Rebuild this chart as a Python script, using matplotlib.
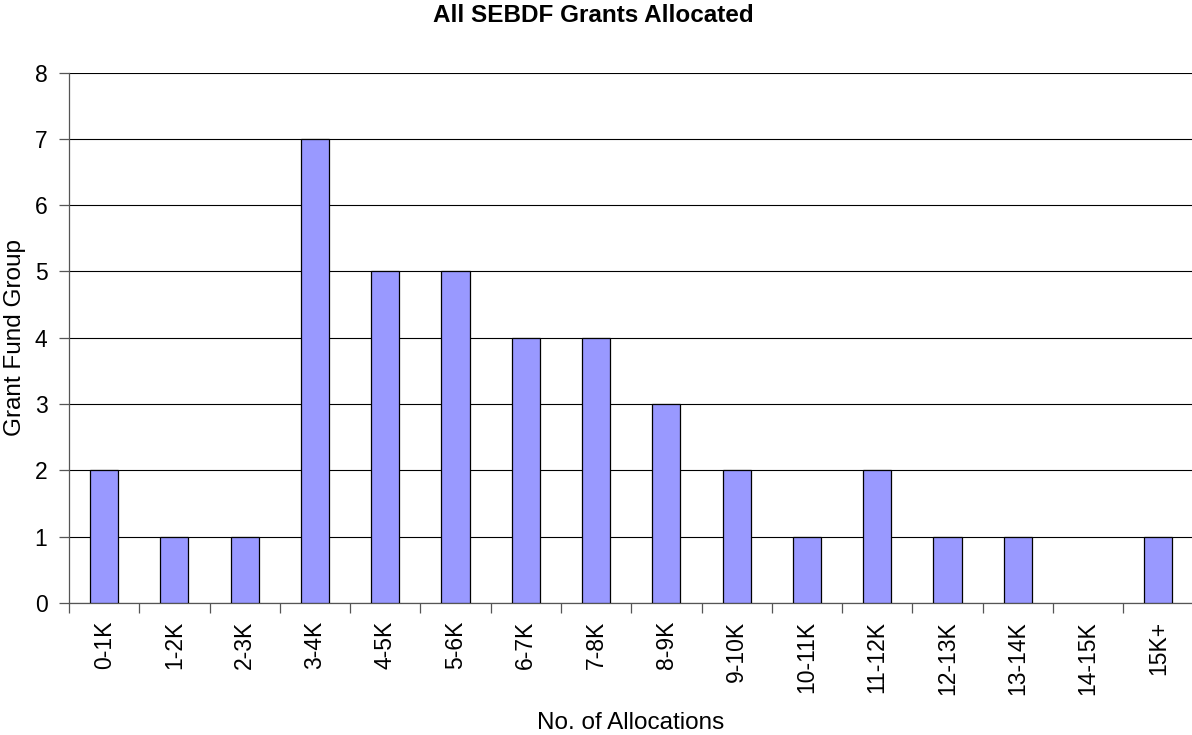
import matplotlib
matplotlib.use("Agg")
import matplotlib.pyplot as plt
import numpy as np

categories = ["0-1K", "1-2K", "2-3K", "3-4K", "4-5K", "5-6K", "6-7K", "7-8K",
              "8-9K", "9-10K", "10-11K", "11-12K", "12-13K", "13-14K", "14-15K", "15K+"]
counts = [2, 1, 1, 7, 5, 5, 4, 4, 3, 2, 1, 2, 1, 1, 0, 1]

plt.rcParams["font.family"] = ["Liberation Sans", "DejaVu Sans"]

W, H = 1192, 735
fig = plt.figure(figsize=(W / 100, H / 100), dpi=100)
left, right, top, bottom = 69, 1193.5, 72.5, 603
ax = fig.add_axes([left / W, 1 - bottom / H, (right - left) / W, (bottom - top) / H])

x = np.arange(len(categories))
# empty groups get no outline so nothing is drawn on the baseline
edges = ["black" if c > 0 else "none" for c in counts]
ax.bar(x, counts, width=0.40, color="#9999FF", edgecolor=edges, linewidth=0.9, zorder=3)

ax.set_xlim(-0.5, len(categories) - 0.5)
ax.set_ylim(0, 8)
ax.set_yticks(range(0, 9))
ax.tick_params(axis="y", labelsize=16.5, length=7, width=0.9, color="#555555", pad=8.5)
ax.yaxis.grid(True, color="black", linewidth=0.8, zorder=0)

ax.set_xticks(x)
ax.set_xticklabels(categories, rotation=90, fontsize=16.5)
ax.tick_params(axis="x", length=0, pad=13)
ax.set_xticks(np.arange(-0.5, len(categories), 1), minor=True)
ax.tick_params(axis="x", which="minor", length=7, width=0.9, color="#555555")

for side in ["top", "right"]:
    ax.spines[side].set_visible(False)
ax.spines["left"].set_color("#555555")
ax.spines["bottom"].set_color("#555555")
ax.spines["left"].set_linewidth(0.9)
ax.spines["bottom"].set_linewidth(0.9)

fig.text(593 / W, 1 - 22.5 / H, "All SEBDF Grants Allocated", ha="center", va="baseline",
         fontsize=17.5, fontweight="bold")
fig.text(631 / W, 1 - 729 / H, "No. of Allocations", ha="center", va="baseline",
         fontsize=17.5)
fig.text(15 / W, 1 - 337.5 / H, "Grant Fund Group", ha="center", va="center",
         rotation=90, fontsize=17.5)

fig.savefig("out.png", dpi=100, facecolor="white")
